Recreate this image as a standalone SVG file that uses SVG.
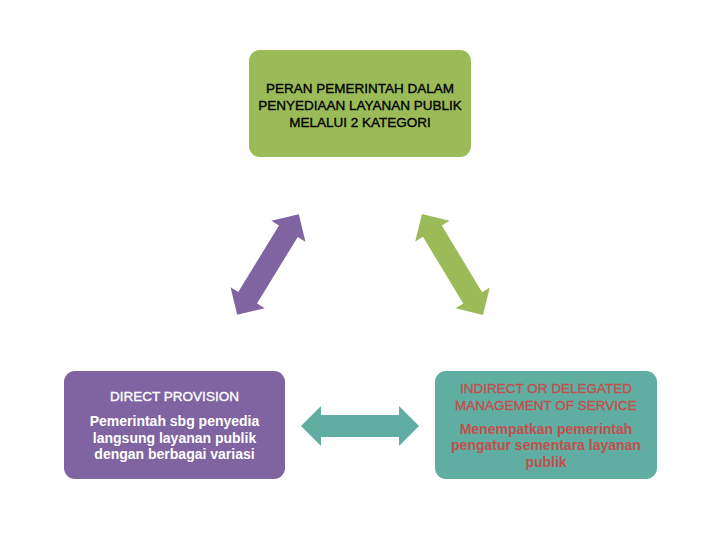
<svg xmlns="http://www.w3.org/2000/svg" width="720" height="540" viewBox="0 0 720 540">
<style>
  text { font-family: "Liberation Sans", Arial, sans-serif; text-anchor: middle; }
  .t { font-size: 13.5px; stroke-width: 0.35px; }
  .b { font-size: 14px; font-weight: bold; }
  .blk { fill: #000; }
  .wht { fill: #fff; }
  .red { fill: #C0504D; }
  .t.blk { stroke: #000; }
  .t.wht { stroke: #fff; }
  .t.red { stroke: #C0504D; }
</style>
<defs>
  <path id="dbl" d="M-59,0 L-39,-20 L-39,-11 L39,-11 L39,-20 L59,0 L39,20 L39,11 L-39,11 L-39,20 Z"/>
</defs>
<rect width="720" height="540" fill="#fff"/>
<g id="connectors">
  <use href="#dbl" fill="#8064A2" transform="translate(268,264.5) rotate(-58.5)"/>
  <use href="#dbl" fill="#9BBB59" transform="translate(452.5,264.5) rotate(58.9)"/>
  <use href="#dbl" fill="#60ADA2" transform="translate(360,426)"/>
</g>
<g id="top">
  <rect x="249" y="50" width="222" height="107" rx="11" fill="#9BBB59"/>
  <text class="t blk" x="360" y="93">PERAN PEMERINTAH DALAM</text>
  <text class="t blk" x="360" y="110">PENYEDIAAN LAYANAN PUBLIK</text>
  <text class="t blk" x="360" y="127">MELALUI 2 KATEGORI</text>
</g>
<g id="direct">
  <rect x="64" y="371" width="221" height="108" rx="11" fill="#8064A2"/>
  <text class="t wht" x="174.5" y="401">DIRECT PROVISION</text>
  <text class="b wht" x="174.5" y="426">Pemerintah sbg penyedia</text>
  <text class="b wht" x="174.5" y="443">langsung layanan publik</text>
  <text class="b wht" x="174.5" y="459">dengan berbagai variasi</text>
</g>
<g id="indirect">
  <rect x="435" y="371" width="222" height="108" rx="11" fill="#60ADA2"/>
  <text class="t red" x="546" y="393">INDIRECT OR DELEGATED</text>
  <text class="t red" x="546" y="410">MANAGEMENT OF SERVICE</text>
  <text class="b red" x="546" y="434">Menempatkan pemerintah</text>
  <text class="b red" x="546" y="450">pengatur sementara layanan</text>
  <text class="b red" x="546" y="467">publik</text>
</g>
</svg>
